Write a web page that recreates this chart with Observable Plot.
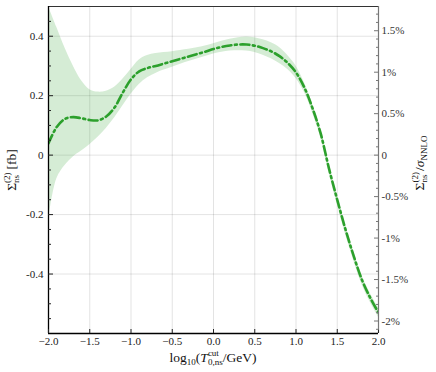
<!DOCTYPE html>
<html><head><meta charset="utf-8">
<script src="https://cdn.jsdelivr.net/npm/d3@7"></script>
<script src="https://cdn.jsdelivr.net/npm/@observablehq/plot@0.6"></script>
<style>
body{margin:0;background:#fff}
#chart{width:436px;height:372px}
#chart svg, #chart svg text{font-family:"Liberation Serif","DejaVu Serif",serif !important}
</style>
</head><body><div id="chart"></div>
<script>
// log10(T cut / GeV)
const xs = [-2.0,-1.9,-1.8,-1.7,-1.6,-1.5,-1.4,-1.3,-1.2,-1.1,-1.0,-0.9,-0.8,-0.7,-0.6,-0.5,-0.4,-0.3,-0.2,-0.1,
             0.0,0.1,0.2,0.3,0.4,0.5,0.6,0.7,0.8,0.9,1.0,1.1,1.2,1.3,1.4,1.5,1.6,1.7,1.8,1.9,2.0];
// central value, fb
const central = [0.040,0.095,0.122,0.128,0.124,0.118,0.117,0.130,0.160,0.210,0.255,0.282,0.293,0.300,0.308,0.316,0.324,0.332,0.340,0.348,
                 0.357,0.364,0.369,0.372,0.372,0.368,0.360,0.349,0.333,0.310,0.278,0.228,0.158,0.072,-0.045,-0.150,-0.250,-0.340,-0.420,-0.480,-0.530];
// uncertainty band, fb
const upper = [0.50,0.43,0.36,0.30,0.25,0.220,0.212,0.215,0.228,0.255,0.288,0.320,0.335,0.342,0.345,0.348,0.352,0.356,0.361,0.367,
               0.375,0.383,0.390,0.395,0.397,0.395,0.388,0.378,0.362,0.335,0.300,0.245,0.173,0.087,-0.030,-0.134,-0.234,-0.325,-0.405,-0.465,-0.515];
const lower = [-0.22,-0.08,-0.035,-0.006,0.014,0.035,0.060,0.090,0.125,0.165,0.205,0.238,0.260,0.275,0.286,0.296,0.306,0.315,0.323,0.332,
               0.340,0.346,0.350,0.351,0.350,0.345,0.336,0.324,0.308,0.288,0.258,0.212,0.143,0.058,-0.061,-0.166,-0.266,-0.355,-0.435,-0.495,-0.545];

const xTicks = [-2.0,-1.5,-1.0,-0.5,0.0,0.5,1.0,1.5,2.0];
const xGrid = [-1.5,-1.0,-0.5,0.0,0.5,1.0,1.5];
const yTicks = [-0.4,-0.2,0,0.2,0.4];
const yMinor = [-0.55,-0.5,-0.45,-0.35,-0.3,-0.25,-0.15,-0.1,-0.05,0.05,0.1,0.15,0.25,0.3,0.35,0.45];
const pctTicks = [-2,-1.5,-1,-0.5,0,0.5,1,1.5];
const pctMinor = [-2.1,-1.9,-1.8,-1.7,-1.6,-1.4,-1.3,-1.2,-1.1,-0.9,-0.8,-0.7,-0.6,-0.4,-0.3,-0.2,-0.1,0.1,0.2,0.3,0.4,0.6,0.7,0.8,0.9,1.1,1.2,1.3,1.4,1.6,1.7];
const sigmaNNLO = 27.9; // fb

const data = xs.map((x,i)=>({x, c: central[i], lo: lower[i], hi: upper[i]}));
const green = "#2ca02c";
const SERIF = "'Liberation Serif','DejaVu Serif',serif";
const toFb = p => p * sigmaNNLO / 100;
const fmtX = d => d.toFixed(1).replace("-", "\u2212");
const fmtY = d => d === 0 ? "0" : String(+d.toFixed(2));
const fmtP = p => Math.abs(p) < 1e-9 ? "0" : String(+p.toFixed(1)) + "%";

const svg = Plot.plot({
  width: 436, height: 372,
  marginLeft: 48, marginRight: 58, marginTop: 6, marginBottom: 39,
  style: {fontFamily: SERIF, fontSize: "11px", color: "#222", background: "#fff"},
  x: {domain: [-2, 2]},
  y: {domain: [-0.6, 0.5]},
  marks: [
    Plot.gridX(xGrid, {stroke: "#000", strokeOpacity: 0.11}),
    Plot.gridY(yTicks, {stroke: "#000", strokeOpacity: 0.11}),
    Plot.areaY(data, {x: "x", y1: "lo", y2: "hi", fill: green, fillOpacity: 0.2, curve: "catmull-rom", clip: true}),
    Plot.lineY(data, {x: "x", y: "c", stroke: green, strokeWidth: 2.6, strokeDasharray: "9,3.5,2,3.5", curve: "catmull-rom", clip: true}),
    // frame
    Plot.ruleY([0.5], {stroke: "#333", strokeWidth: 1.2}),
    Plot.ruleX([2], {stroke: "#777", strokeWidth: 1.2}),
    Plot.ruleX([-2], {stroke: "#000", strokeWidth: 1.3}),
    Plot.ruleY([-0.6], {stroke: "#000", strokeWidth: 1.3}),
    // bottom axis
    Plot.axisX({ticks: xTicks, tickSize: 0, tickPadding: 4, tickFormat: fmtX, label: null}),
    Plot.axisX({ticks: xTicks, tickSize: -4, tickFormat: () => "", label: null}),
    // left axis
    Plot.axisY({ticks: yTicks, tickSize: 0, tickPadding: 5, tickFormat: fmtY, label: null}),
    Plot.axisY({ticks: yTicks, tickSize: -5, tickFormat: () => "", label: null}),
    Plot.axisY({ticks: yMinor, tickSize: -3, tickFormat: () => "", label: null}),
    // right axis (percent of sigma NNLO)
    Plot.axisY({anchor: "right", ticks: pctTicks.map(toFb), tickSize: 0, tickPadding: 3,
                tickFormat: d => fmtP(d / sigmaNNLO * 100), label: null, color: "#333"}),
    Plot.axisY({anchor: "right", ticks: pctTicks.map(toFb), tickSize: -5, tickFormat: () => "", label: null, stroke: "#777"}),
    Plot.axisY({anchor: "right", ticks: pctMinor.map(toFb), tickSize: -3, tickFormat: () => "", label: null, stroke: "#777"})
  ]
});
document.getElementById("chart").appendChild(svg);

const s = d3.select(svg);
const FS = 13.5, SS = 9;
// left title
{
  const t = s.append("text").attr("transform", "translate(16,170) rotate(-90)")
    .attr("text-anchor", "middle").attr("font-size", FS).attr("font-family", SERIF).attr("fill", "#111");
  t.append("tspan").text("Σ");
  const sup = t.append("tspan").attr("font-size", SS).attr("dy", -6).text("(2)");
  const w = sup.node().getComputedTextLength();
  const sub = t.append("tspan").attr("font-size", SS).attr("dx", -w).attr("dy", 9).text("ns");
  const ws = sub.node().getComputedTextLength();
  t.append("tspan").attr("dx", Math.max(w - ws, 0) + 3).attr("dy", -3).text("[fb]");
}
// right title
{
  const t = s.append("text").attr("transform", "translate(424,163) rotate(-90)")
    .attr("text-anchor", "middle").attr("font-size", FS).attr("font-family", SERIF).attr("fill", "#111");
  t.append("tspan").text("Σ");
  const sup = t.append("tspan").attr("font-size", SS).attr("dy", -6).text("(2)");
  const w = sup.node().getComputedTextLength();
  const sub = t.append("tspan").attr("font-size", SS).attr("dx", -w).attr("dy", 9).text("ns");
  const ws = sub.node().getComputedTextLength();
  t.append("tspan").attr("dx", Math.max(w - ws, 0) + 1).attr("dy", -3).text("/");
  t.append("tspan").attr("font-style", "italic").text("σ");
  t.append("tspan").attr("font-size", SS).attr("dy", 3).text("NNLO");
}
// x title
{
  const t = s.append("text").attr("x", 213).attr("y", 362)
    .attr("text-anchor", "middle").attr("font-size", FS).attr("font-family", SERIF).attr("fill", "#111");
  t.append("tspan").text("log");
  t.append("tspan").attr("font-size", SS).attr("dy", 3).text("10");
  t.append("tspan").attr("dy", -3).text("(");
  t.append("tspan").attr("font-style", "italic").text("T");
  const sup = t.append("tspan").attr("font-size", SS).attr("dy", -6).text("cut");
  const w = sup.node().getComputedTextLength();
  const sub = t.append("tspan").attr("font-size", SS).attr("dx", -w).attr("dy", 9).text("0,ns");
  const ws = sub.node().getComputedTextLength();
  t.append("tspan").attr("dx", Math.max(w - ws, 0)).attr("dy", -3).text("/GeV)");
}
</script>
</body></html>
